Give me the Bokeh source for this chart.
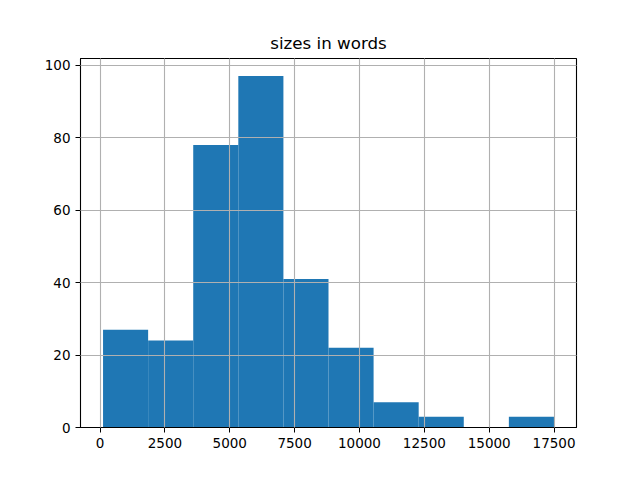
from bokeh.plotting import figure
from bokeh.models import FixedTicker, Range1d
from bokeh.embed import file_html
from bokeh.resources import INLINE

# histogram data
bin_edges = [116, 1854, 3592, 5330, 7068, 8806, 10544, 12282, 14020, 15758, 17496]
counts = [27, 24, 78, 97, 41, 22, 7, 3, 0, 3]
x_ticks = [0, 2500, 5000, 7500, 10000, 12500, 15000, 17500]
y_ticks = [0, 20, 40, 60, 80, 100]
title_text = "sizes in words"

p = figure(width=624, height=464, output_backend="svg", toolbar_location=None,
           x_range=Range1d(-753, 18365), y_range=Range1d(0, 101.85),
           min_border_left=80, min_border_right=48, min_border_top=58, min_border_bottom=37,
           title=title_text)

p.title.align = "center"
p.title.text_font = "DejaVu Sans"
p.title.text_font_size = "16.7px"
p.title.text_font_style = "normal"
p.title.text_color = "black"
p.title.standoff = 12

p.quad(left=bin_edges[:-1], right=bin_edges[1:], bottom=0, top=counts,
       fill_color="#1f77b4", line_color=None)

p.outline_line_color = "black"
p.outline_line_width = 1.1
p.background_fill_color = "white"
p.border_fill_color = "white"

for ax, ticks in ((p.xaxis, x_ticks), (p.yaxis, y_ticks)):
    ax.ticker = FixedTicker(ticks=ticks)
    ax.minor_tick_line_color = None
    ax.major_tick_in = 0
    ax.major_tick_out = 5
    ax.major_tick_line_color = "black"
    ax.axis_line_color = "black"
    ax.major_label_text_font = "DejaVu Sans"
    ax.major_label_text_font_size = "13.5px"
    ax.major_label_text_color = "black"
    ax.major_label_standoff = 5

p.xaxis.formatter.use_scientific = False
p.yaxis.formatter.use_scientific = False

for g in (p.xgrid, p.ygrid):
    g.grid_line_color = "#b0b0b0"
    g.grid_line_width = 1.1
    g.level = "overlay"

open("out.html", "w").write(file_html(p, INLINE))
